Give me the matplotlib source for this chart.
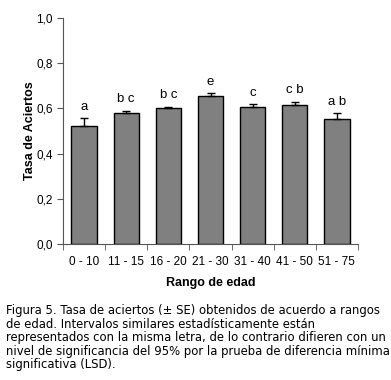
import numpy as np
import matplotlib.pyplot as plt
from matplotlib.ticker import FixedLocator, FuncFormatter

# Data
rangos = ['0 - 10', '11 - 15', '16 - 20', '21 - 30', '31 - 40', '41 - 50', '51 - 75']
tasa = [0.523, 0.581, 0.600, 0.655, 0.606, 0.613, 0.554]
se = [0.033, 0.009, 0.006, 0.012, 0.013, 0.017, 0.025]
letras = ['a', 'b c', 'b c', 'e', 'c', 'c b', 'a b']

caption = ("Figura 5. Tasa de aciertos (\u00b1 SE) obtenidos de acuerdo a rangos\n"
           "de edad. Intervalos similares estad\u00edsticamente est\u00e1n\n"
           "representados con la misma letra, de lo contrario difieren con un\n"
           "nivel de significancia del 95% por la prueba de diferencia m\u00ednima\n"
           "significativa (LSD).")

plt.rcParams['font.family'] = ['Liberation Sans', 'DejaVu Sans']

fig = plt.figure(figsize=(3.91, 3.80), dpi=100)
ax = fig.add_axes([63 / 391, 1 - 244 / 380, 295 / 391, 226 / 380])

x = np.arange(len(rangos))
ax.bar(x, tasa, width=0.6, color='#808080', edgecolor='black', linewidth=1.0, zorder=2)
ax.errorbar(x, tasa, yerr=[np.zeros(len(se)), se], fmt='none', ecolor='black',
            elinewidth=1.0, capsize=3, capthick=1.0, zorder=3)

# Significance letters above error bars
for xi, t, s, l in zip(x, tasa, se, letras):
    ax.annotate(l, (xi, t + s), xytext=(0, 4), textcoords='offset points',
                ha='center', va='bottom', fontsize=9.5)

ax.set_xlim(-0.5, len(rangos) - 0.5)
ax.set_ylim(0, 1.0)
ax.set_yticks(np.arange(0, 1.01, 0.2))
ax.yaxis.set_major_formatter(FuncFormatter(lambda v, p: f'{v:.1f}'.replace('.', ',')))
ax.set_xticks(x)
ax.set_xticklabels(rangos)
ax.xaxis.set_minor_locator(FixedLocator(np.arange(-0.5, len(rangos), 1)))
ax.tick_params(axis='x', which='major', length=0, pad=8.5, labelsize=8.5)
ax.tick_params(axis='x', which='minor', length=4, direction='out', color='#555555')
ax.tick_params(axis='y', length=4, direction='out', labelsize=8.5, color='#555555')

for side in ['top', 'right']:
    ax.spines[side].set_visible(False)
for side in ['left', 'bottom']:
    ax.spines[side].set_color('#555555')

ax.set_ylabel('Tasa de Aciertos', fontweight='bold', fontsize=9, labelpad=0)
ax.set_xlabel('Rango de edad', fontweight='bold', fontsize=9, labelpad=6.5)

fig.text(6 / 391, 1 - 304 / 380, caption, ha='left', va='top', fontsize=8.35,
         family=['DejaVu Sans'], linespacing=1.05)

fig.savefig('out.png', dpi=100)
